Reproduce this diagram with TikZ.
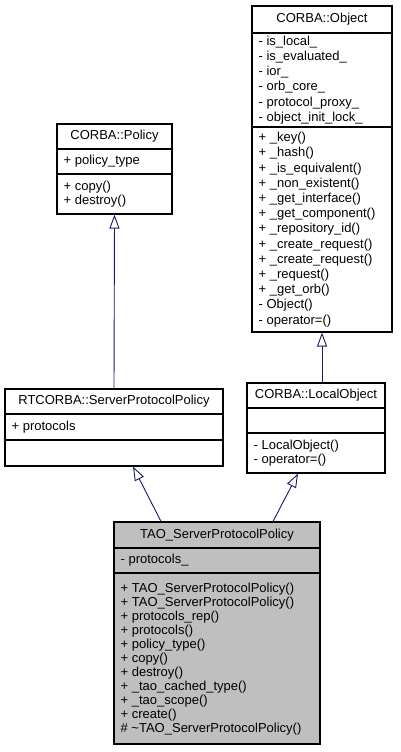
\documentclass[tikz,border=0pt]{standalone}
\usepackage{fontspec}
\setmainfont{Liberation Sans}
\usepackage{xcolor}
\usepackage{tikz}
\usetikzlibrary{calc,arrows.meta}
\definecolor{edge}{HTML}{000000}
\definecolor{navy}{HTML}{191970}
\definecolor{shade}{HTML}{BFBFBF}
\tikzset{
  cls/.style={draw=edge, line width=1.1pt, fill=white, inner sep=0pt},
  part/.style={draw=edge, line width=1.1pt},
  cname/.style={inner sep=0pt, font=\fontsize{13}{14}\selectfont},
  memb/.style={inner sep=0pt, anchor=west, align=left, font=\fontsize{13}{14}\selectfont},
  membw/.style={memb, font=\fontsize{13}{15.2}\selectfont},
  inh/.style={draw=navy, line width=0.9pt, -{Triangle[fill=white, length=14pt, width=10pt]}},
}

\begin{document}
\begin{tikzpicture}[x=1pt,y=-1pt]
  \useasboundingbox (0,0) rectangle (400,752);

  % class boxes
  \node[cls, minimum width=140pt, minimum height=326pt] (object) at (322,169) {};
  \node[cls, minimum width=115pt, minimum height=90pt] (policy) at (114.5,169) {};
  \node[cls, minimum width=218pt, minimum height=77pt] (rtcorba) at (114,427.5) {};
  \node[cls, minimum width=138pt, minimum height=90pt] (localobject) at (316,428) {};
  \node[cls, fill=shade, minimum width=206pt, minimum height=222pt] (tao) at (217,633) {};

  % compartments
  \draw[part] (object.west |- 0,33) -- (object.east |- 0,33);
  \draw[part] (object.west |- 0,127) -- (object.east |- 0,127);
  \draw[part] (policy.west |- 0,149) -- (policy.east |- 0,149);
  \draw[part] (policy.west |- 0,174) -- (policy.east |- 0,174);
  \draw[part] (rtcorba.west |- 0,414) -- (rtcorba.east |- 0,414);
  \draw[part] (rtcorba.west |- 0,440) -- (rtcorba.east |- 0,440);
  \draw[part] (localobject.west |- 0,408) -- (localobject.east |- 0,408);
  \draw[part] (localobject.west |- 0,433) -- (localobject.east |- 0,433);
  \draw[part] (tao.west |- 0,548) -- (tao.east |- 0,548);
  \draw[part] (tao.west |- 0,573) -- (tao.east |- 0,573);

  % CORBA::Object
  \node[cname] (object-name) at (object.center |- 0,19.5) {CORBA::Object};
  \node[membw] (object-attr) at ([xshift=7pt]object.west |- 0,80) {- is\_local\_\\- is\_evaluated\_\\- ior\_\\- orb\_core\_\\- protocol\_proxy\_\\- object\_init\_lock\_};
  \node[membw] (object-ops) at ([xshift=7pt]object.west |- 0,229.5) {+ \_key()\\+ \_hash()\\+ \_is\_equivalent()\\+ \_non\_existent()\\+ \_get\_interface()\\+ \_get\_component()\\+ \_repository\_id()\\+ \_create\_request()\\+ \_create\_request()\\+ \_request()\\+ \_get\_orb()\\- Object()\\- operator=()};

  % CORBA::Policy
  \node[cname] (policy-name) at (policy.center |- 0,136.5) {CORBA::Policy};
  \node[memb] (policy-attr) at ([xshift=7pt]policy.west |- 0,161.5) {+ policy\_type};
  \node[memb] (policy-ops) at ([xshift=7pt]policy.west |- 0,194) {+ copy()\\+ destroy()};

  % RTCORBA::ServerProtocolPolicy
  \node[cname] (rtcorba-name) at (rtcorba.center |- 0,401.5) {RTCORBA::ServerProtocolPolicy};
  \node[memb] (rtcorba-attr) at ([xshift=7pt]rtcorba.west |- 0,427) {+ protocols};

  % CORBA::LocalObject
  \node[cname] (localobject-name) at (localobject.center |- 0,395.5) {CORBA::LocalObject};
  \node[memb] (localobject-ops) at ([xshift=7pt]localobject.west |- 0,453) {- LocalObject()\\- operator=()};

  % TAO_ServerProtocolPolicy
  \node[cname] (tao-name) at (tao.center |- 0,535) {TAO\_ServerProtocolPolicy};
  \node[memb] (tao-attr) at ([xshift=7pt]tao.west |- 0,560.5) {- protocols\_};
  \node[memb] (tao-ops) at ([xshift=7pt]tao.west |- 0,659) {+ TAO\_ServerProtocolPolicy()\\+ TAO\_ServerProtocolPolicy()\\+ protocols\_rep()\\+ protocols()\\+ policy\_type()\\+ copy()\\+ destroy()\\+ \_tao\_cached\_type()\\+ \_tao\_scope()\\+ create()\\\# \textasciitilde TAO\_ServerProtocolPolicy()};

  % inheritance
  \draw[inh] (rtcorba.north) -- (policy.south);
  \draw[inh] (localobject.north -| object.south) -- (object.south);
  \draw[inh] ([xshift=-56pt]tao.north) -- ([xshift=19pt]rtcorba.south);
  \draw[inh] ([xshift=56pt]tao.north) -- ([xshift=-18pt]localobject.south);
\end{tikzpicture}
\end{document}
